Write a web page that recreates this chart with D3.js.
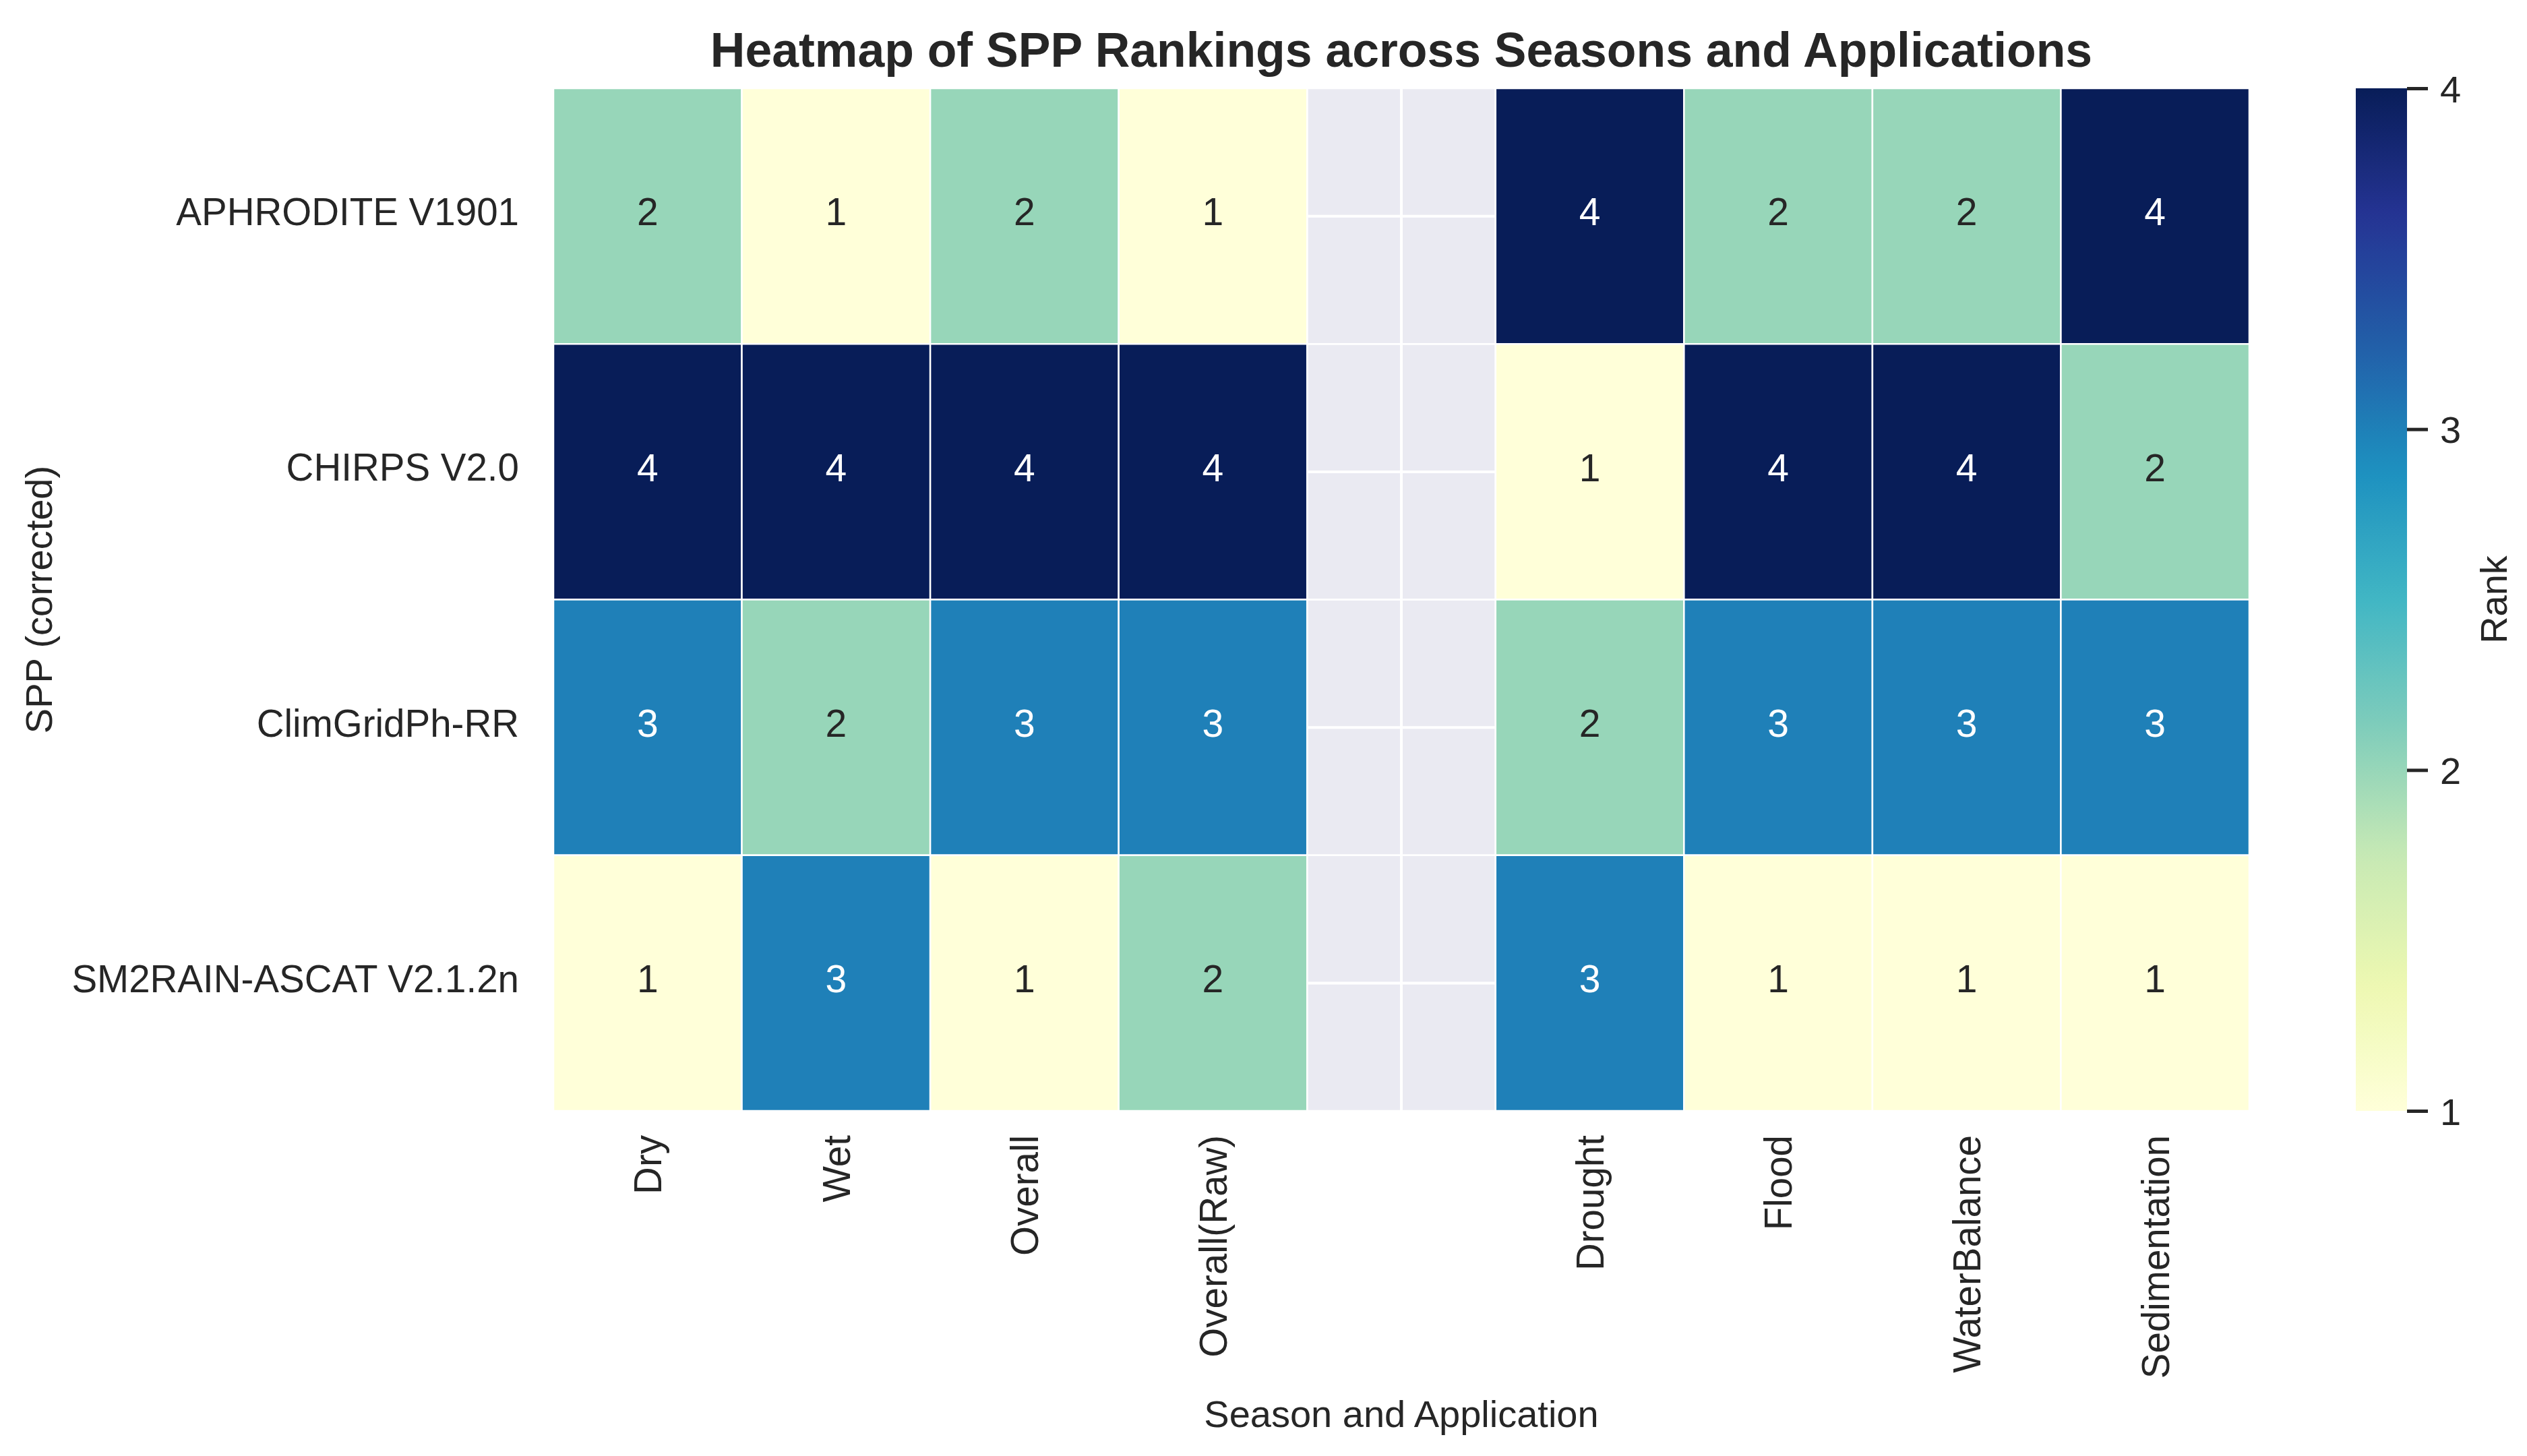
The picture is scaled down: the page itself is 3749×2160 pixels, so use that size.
<!DOCTYPE html>
<html>
<head>
<meta charset="utf-8">
<script src="https://cdn.jsdelivr.net/npm/d3@7"></script>
<style>
  body { margin: 0; background: #fff; }
  text { font-family: "Liberation Sans", Arial, sans-serif; fill: #262626; }
</style>
</head>
<body>
<svg id="chart" width="3749" height="2160"></svg>
<script>
// data
var products = ["APHRODITE V1901", "CHIRPS V2.0", "ClimGridPh-RR", "SM2RAIN-ASCAT V2.1.2n"]
var columns = ["Dry", "Wet", "Overall", "Overall(Raw)", "", "Drought", "Flood", "WaterBalance", "Sedimentation"]
var aphrodite = [2, 1, 2, 1, null, 4, 2, 2, 4]
var chirps = [4, 4, 4, 4, null, 1, 4, 4, 2]
var climgrid = [3, 2, 3, 3, null, 2, 3, 3, 3]
var sm2rain = [1, 3, 1, 2, null, 3, 1, 1, 1]
var rankTicks = [1, 2, 3, 4]
var ranks = [aphrodite, chirps, climgrid, sm2rain]

// matplotlib YlGnBu stops
var ylgnbu = ["#ffffd9", "#edf8b1", "#c7e9b4", "#7fcdbb", "#41b6c4", "#1d91c0", "#225ea8", "#253494", "#081d58"]

var svg = d3.select("#chart")
var pLeft = 821, pRight = 3337, pTop = 131, pBottom = 1648

var x = d3.scaleBand().domain(columns).range([pLeft, pRight])
var y = d3.scaleBand().domain(products).range([pTop, pBottom])
var color = d3.scaleLinear()
    .domain(d3.range(9).map(function (i) { return 1 + i * 3 / 8 }))
    .range(ylgnbu)
    .interpolate(d3.interpolateRgb)
    .clamp(true)

// axes background + grid (only shows where a cell is empty)
svg.append("rect").attr("x", pLeft).attr("y", pTop)
    .attr("width", pRight - pLeft).attr("height", pBottom - pTop)
    .attr("fill", "#eaeaf2")
columns.forEach(function (c) {
  svg.append("line").attr("x1", x(c) + x.bandwidth() / 2).attr("x2", x(c) + x.bandwidth() / 2)
      .attr("y1", pTop).attr("y2", pBottom).attr("stroke", "#fff").attr("stroke-width", 4)
})
products.forEach(function (p) {
  svg.append("line").attr("y1", y(p) + y.bandwidth() / 2).attr("y2", y(p) + y.bandwidth() / 2)
      .attr("x1", pLeft).attr("x2", pRight).attr("stroke", "#fff").attr("stroke-width", 4)
})

var cells = []
products.forEach(function (p, i) {
  columns.forEach(function (c, j) {
    cells.push({ row: p, col: c, v: ranks[i][j] })
  })
})

svg.append("g").selectAll("rect").data(cells).join("rect")
    .attr("x", function (d) { return x(d.col) })
    .attr("y", function (d) { return y(d.row) })
    .attr("width", x.bandwidth())
    .attr("height", y.bandwidth())
    .attr("fill", function (d) { return d.v == null ? "none" : color(d.v) })
    .attr("stroke", "#fff")
    .attr("stroke-width", 2.5)

svg.append("g").selectAll("text").data(cells.filter(function (d) { return d.v != null })).join("text")
    .attr("x", function (d) { return x(d.col) + x.bandwidth() / 2 })
    .attr("y", function (d) { return y(d.row) + y.bandwidth() / 2 })
    .attr("dy", "0.24em")
    .attr("text-anchor", "middle")
    .style("font-size", "57px")
    .style("fill", function (d) { return d.v >= 3 ? "#ffffff" : "#262626" })
    .text(function (d) { return d.v })

// y axis
var yAxis = svg.append("g").attr("transform", "translate(" + pLeft + ",0)")
    .call(d3.axisLeft(y).tickSize(0).tickPadding(51))
yAxis.select(".domain").remove()
yAxis.selectAll("text").style("font-size", "56.5px").attr("dy", "0.24em")

// x axis
var xAxis = svg.append("g").attr("transform", "translate(0," + pBottom + ")")
    .call(d3.axisBottom(x).tickSize(0))
xAxis.select(".domain").remove()
xAxis.selectAll("text")
    .style("font-size", "56.5px")
    .attr("text-anchor", "end")
    .attr("transform", "rotate(-90)")
    .attr("x", -36)
    .attr("y", 0)
    .attr("dy", "0.36em")

svg.append("text")
    .attr("x", (pLeft + pRight) / 2).attr("y", 99)
    .attr("text-anchor", "middle")
    .style("font-size", "71.5px").style("font-weight", "bold")
    .text("Heatmap of SPP Rankings across Seasons and Applications")

svg.append("text")
    .attr("x", (pLeft + pRight) / 2).attr("y", 2117)
    .attr("text-anchor", "middle")
    .style("font-size", "56px")
    .text("Season and Application")

svg.append("text")
    .attr("transform", "translate(57," + (pTop + pBottom) / 2 + ") rotate(-90)")
    .attr("text-anchor", "middle").attr("dy", "0.36em")
    .style("font-size", "56px")
    .text("SPP (corrected)")

// colorbar
var cbX = 3495, cbW = 76
var cbScale = d3.scaleLinear().domain([1, 4]).range([pBottom, pTop])
var grad = svg.append("defs").append("linearGradient")
    .attr("id", "cbgrad").attr("x1", 0).attr("x2", 0).attr("y1", 1).attr("y2", 0)
d3.range(0, 1.0001, 0.02).forEach(function (t) {
  grad.append("stop").attr("offset", t).attr("stop-color", color(1 + 3 * t))
})
svg.append("rect").attr("x", cbX).attr("y", pTop).attr("width", cbW).attr("height", pBottom - pTop)
    .attr("fill", "url(#cbgrad)")
var cbAxis = svg.append("g").attr("transform", "translate(" + (cbX + cbW) + ",0)")
    .call(d3.axisRight(cbScale).tickValues(rankTicks).tickFormat(d3.format("d")).tickSize(31).tickPadding(18))
cbAxis.select(".domain").remove()
cbAxis.selectAll("line").attr("stroke", "#262626").attr("stroke-width", 5)
cbAxis.selectAll("text").style("font-size", "56px").attr("dy", "0.36em")

svg.append("text")
    .attr("transform", "translate(3699," + (pTop + pBottom) / 2 + ") rotate(-90)")
    .attr("text-anchor", "middle").attr("dy", "0.36em")
    .style("font-size", "56px")
    .text("Rank")
</script>
</body>
</html>
